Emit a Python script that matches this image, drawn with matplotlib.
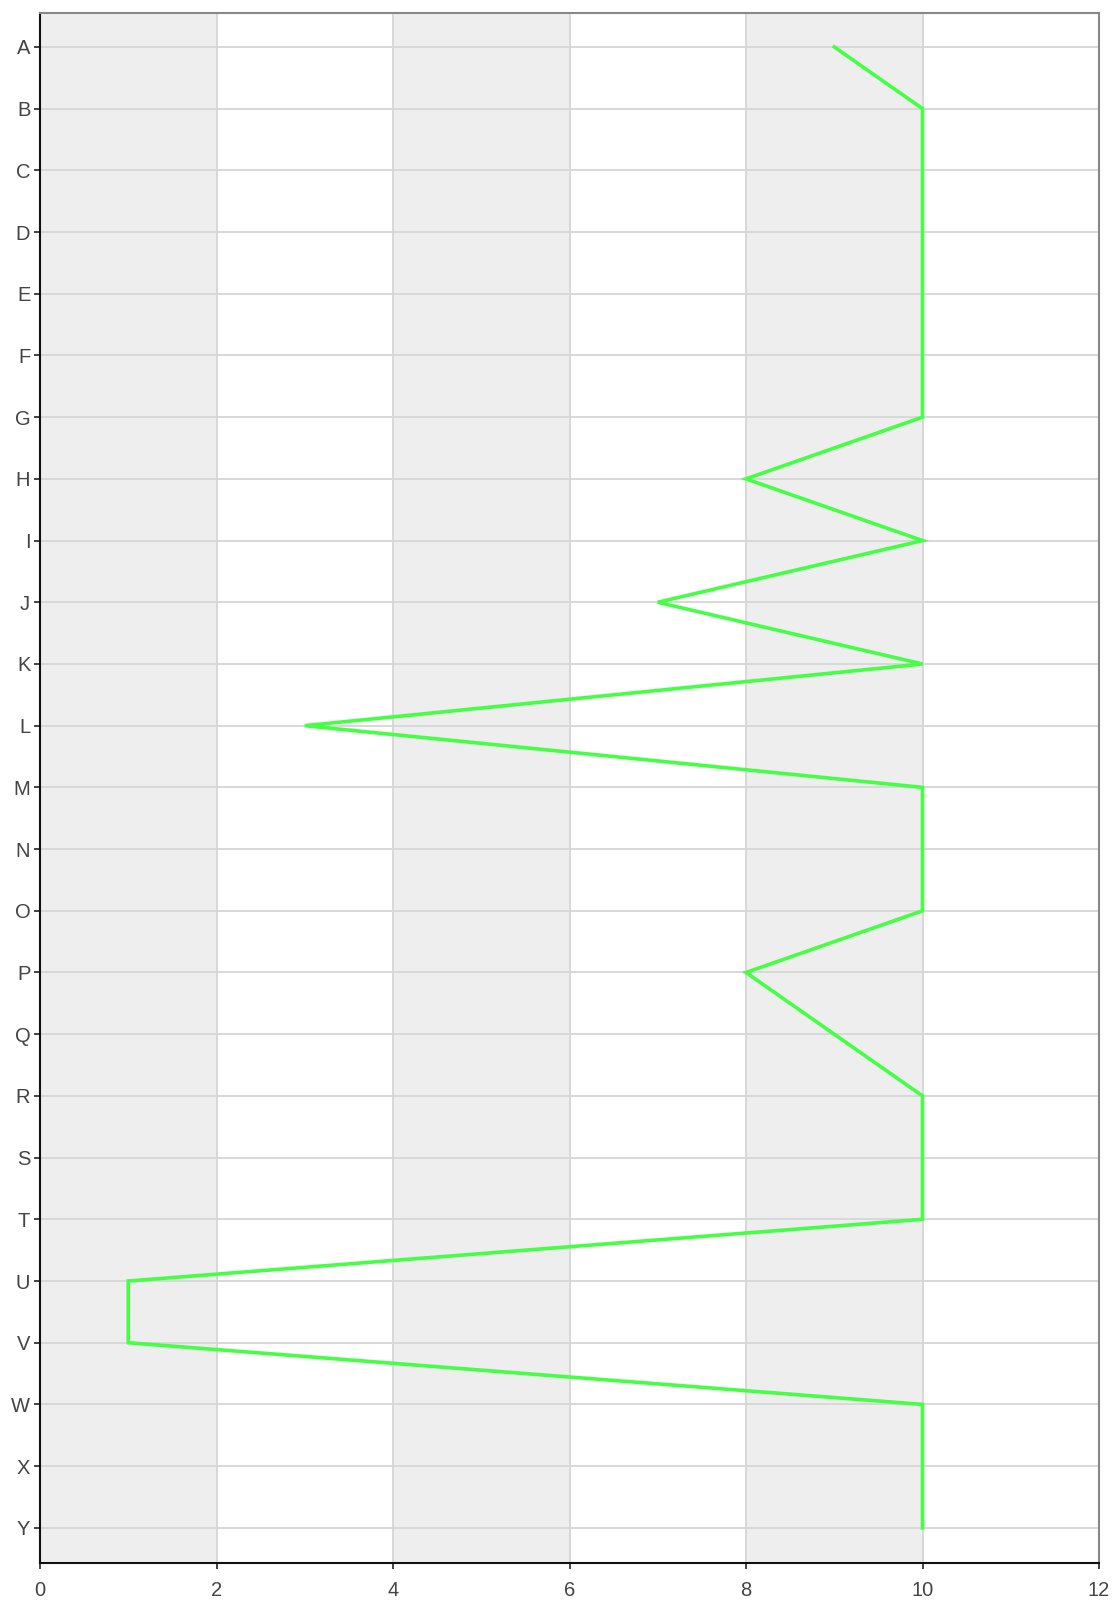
import matplotlib
matplotlib.use("Agg")
import matplotlib.pyplot as plt

categories = list("ABCDEFGHIJKLMNOPQRSTUVWXY")
values = [9, 10, 10, 10, 10, 10, 10, 8, 10, 7, 10, 3, 10, 10, 10, 8, 9, 10, 10, 10, 1, 1, 10, 10, 10]
x_ticks = [0, 2, 4, 6, 8, 10, 12]

plt.rcParams['font.family'] = ['Liberation Sans', 'DejaVu Sans']

fig = plt.figure(figsize=(11.14, 16), dpi=100)
W, H = 1114, 1600
left, right, top, bottom = 40, 1099, 13, 1563
ax = fig.add_axes([left / W, 1 - bottom / H, (right - left) / W, (bottom - top) / H])

# alternating bands
for i in range(0, len(x_ticks) - 1, 2):
    ax.axvspan(x_ticks[i], x_ticks[i + 1], color='#eeeeee', zorder=0, lw=0)

ypos = list(range(len(categories)))
ax.plot(values, ypos, color='#44ff44', lw=2.6, zorder=3, solid_joinstyle='miter')

ax.set_xlim(0, 12)
ax.set_ylim(len(categories) - 1 + 0.57, -0.55)
ax.set_yticks(ypos)
ax.set_yticklabels(categories)
ax.set_xticks(x_ticks)
ax.set_xticklabels([str(v) for v in x_ticks])

ax.grid(True, color='#d6d6d6', lw=1.3, zorder=1)
ax.set_axisbelow(True)

ax.tick_params(axis='both', colors='#222222', labelcolor='#444444', labelsize=14.5, length=4, width=1.2)
ax.tick_params(axis='x', pad=9)
ax.tick_params(axis='y', pad=3)

ax.spines['left'].set_color('#111111')
ax.spines['bottom'].set_color('#111111')
ax.spines['left'].set_linewidth(1.5)
ax.spines['bottom'].set_linewidth(1.5)
ax.spines['top'].set_color('#888888')
ax.spines['right'].set_color('#888888')
ax.spines['top'].set_linewidth(1.5)
ax.spines['right'].set_linewidth(1.5)

fig.savefig('out.png', dpi=100)
